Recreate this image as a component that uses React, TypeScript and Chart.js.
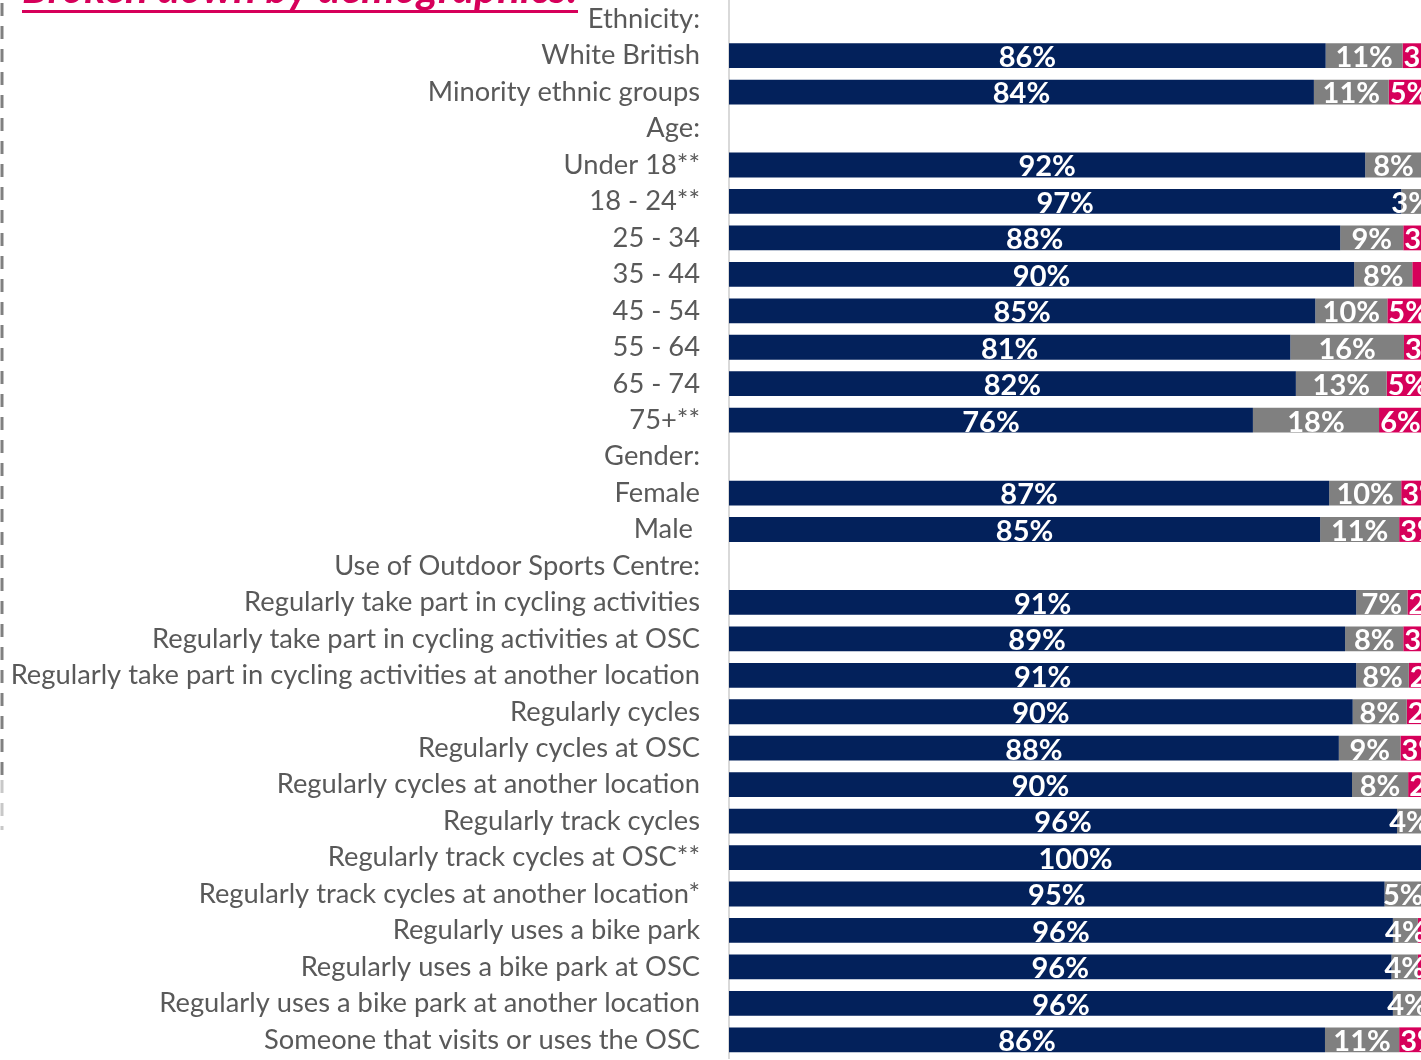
import React, { useEffect, useRef } from "react";
import { Chart, registerables } from "chart.js";

Chart.register(...registerables);

const categories: string[] = [
  "Ethnicity:",
  "White British",
  "Minority ethnic groups",
  "Age:",
  "Under 18**",
  "18 - 24**",
  "25 - 34",
  "35 - 44",
  "45 - 54",
  "55 - 64",
  "65 - 74",
  "75+**",
  "Gender:",
  "Female",
  "Male ",
  "Use of Outdoor Sports Centre:",
  "Regularly take part in cycling activities",
  "Regularly take part in cycling activities at OSC",
  "Regularly take part in cycling activities at another location",
  "Regularly cycles",
  "Regularly cycles at OSC",
  "Regularly cycles at another location",
  "Regularly track cycles",
  "Regularly track cycles at OSC**",
  "Regularly track cycles at another location*",
  "Regularly uses a bike park",
  "Regularly uses a bike park at OSC",
  "Regularly uses a bike park at another location",
  "Someone that visits or uses the OSC",
];

const navyValues: (number | null)[] = [
  null, 86.1, 84.4, null, 91.8, 97, 88.2, 90.2, 84.6, 81.0, 81.8, 75.6, null,
  86.6, 85.3, null, 90.5, 88.9, 90.5, 90.0, 88.0, 89.9, 96.4, 100, 94.6,
  95.8, 95.6, 95.8, 86.0,
];
const grayValues: (number | null)[] = [
  null, 11.1, 10.8, null, 8.2, 3, 9.1, 8.4, 10.4, 16.4, 13.1, 18.2, null,
  10.4, 11.4, null, 7.4, 8.4, 7.6, 7.8, 8.9, 8.1, 3.6, 0, 5.4,
  3.6, 3.8, 4.2, 10.7,
];
const pinkValues: (number | null)[] = [
  null, 2.8, 4.8, null, 0, 0, 2.7, 1.4, 5.0, 2.6, 5.1, 6.2, null,
  3.0, 3.3, null, 2.1, 2.7, 1.9, 2.2, 3.1, 2.0, 0, 0, 0,
  0.6, 0.6, 0, 3.3,
];

const seriesNames = ["Positive", "Neutral", "Negative"];
const titleText = "Broken down by demographics:";
const NAVY = "#03215B";
const GRAY = "#808080";
const PINK = "#D6005A";
const LABEL_GRAY = "#595959";
const FONT = "Lato, 'Open Sans', sans-serif";

const labelPlugin = {
  id: "segmentLabels",
  afterDatasetsDraw(chart: any) {
    const ctx = chart.ctx;
    ctx.save();
    ctx.font = `bold 29px ${FONT}`;
    ctx.fillStyle = "#ffffff";
    ctx.textAlign = "center";
    ctx.textBaseline = "middle";
    chart.data.datasets.forEach((ds: any, di: number) => {
      const meta = chart.getDatasetMeta(di);
      meta.data.forEach((bar: any, i: number) => {
        const v = ds.data[i];
        if (v == null || v < 1.5) return;
        const { x, base, y } = bar.getProps(["x", "base", "y"], true);
        const text = `${Math.round(v)}%`;
        let cx = (x + base) / 2;
        if (di === 2) {
          // last segment: label kept starting inside its segment
          const half = ctx.measureText(text).width / 2;
          cx = Math.max(cx, Math.min(x, base) + half + 1);
        }
        ctx.fillText(text, cx, y + 2);
      });
    });
    ctx.restore();
  },
};

const decorPlugin = {
  id: "decor",
  afterDraw(chart: any) {
    const ctx = chart.ctx;
    ctx.save();
    // left dashed border
    ctx.lineWidth = 3;
    ctx.setLineDash([13, 10]);
    ctx.strokeStyle = "#808080";
    ctx.beginPath();
    ctx.moveTo(2, 3);
    ctx.lineTo(2, 780);
    ctx.stroke();
    ctx.strokeStyle = "#c8c8c8";
    ctx.beginPath();
    ctx.moveTo(2, 780);
    ctx.lineTo(2, 830);
    ctx.stroke();
    ctx.setLineDash([]);
    // clipped title
    ctx.font = `italic bold 34px ${FONT}`;
    const w0 = ctx.measureText(titleText).width;
    const size = (34 * 556) / w0;
    ctx.font = `italic bold ${size}px ${FONT}`;
    ctx.fillStyle = PINK;
    ctx.textAlign = "left";
    ctx.textBaseline = "alphabetic";
    ctx.fillText(titleText, 22, 3);
    ctx.fillRect(22, 10, 556, 3);
    ctx.restore();
  },
};

export default function App() {
  const canvasRef = useRef<HTMLCanvasElement | null>(null);

  useEffect(() => {
    if (!canvasRef.current) return;
    const chart = new Chart(canvasRef.current, {
      type: "bar",
      data: {
        labels: categories,
        datasets: [
          { label: seriesNames[0], data: navyValues, backgroundColor: NAVY },
          { label: seriesNames[1], data: grayValues, backgroundColor: GRAY },
          { label: seriesNames[2], data: pinkValues, backgroundColor: PINK },
        ].map((d) => ({
          ...d,
          barPercentage: 0.68,
          categoryPercentage: 1,
          borderWidth: 0,
        })),
      },
      options: {
        indexAxis: "y",
        responsive: false,
        animation: false,
        devicePixelRatio: 1,
        layout: { padding: { left: 0, right: 18, top: 1, bottom: 2 } },
        plugins: {
          legend: { display: false },
          title: { display: false },
          tooltip: { enabled: false },
        },
        scales: {
          x: {
            stacked: true,
            min: 0,
            max: 100,
            display: false,
          },
          y: {
            stacked: true,
            afterFit: (scale: any) => {
              scale.width = 729;
              scale.paddingTop = 0;
              scale.paddingBottom = 0;
            },
            grid: { display: false, drawTicks: false },
            border: { display: true, color: "#d9d9d9", width: 2 },
            ticks: {
              padding: 29,
              color: LABEL_GRAY,
              font: { family: FONT, size: 27.3 },
              autoSkip: false,
            },
          },
        },
      },
      plugins: [labelPlugin, decorPlugin],
    });
    return () => chart.destroy();
  }, []);

  return (
    <div
      style={{
        position: "fixed",
        left: 0,
        top: 0,
        width: 1421,
        height: 1060,
        overflow: "hidden",
        background: "#ffffff",
      }}
    >
      <canvas ref={canvasRef} width={1440} height={1060} style={{ display: "block" }} />
    </div>
  );
}
